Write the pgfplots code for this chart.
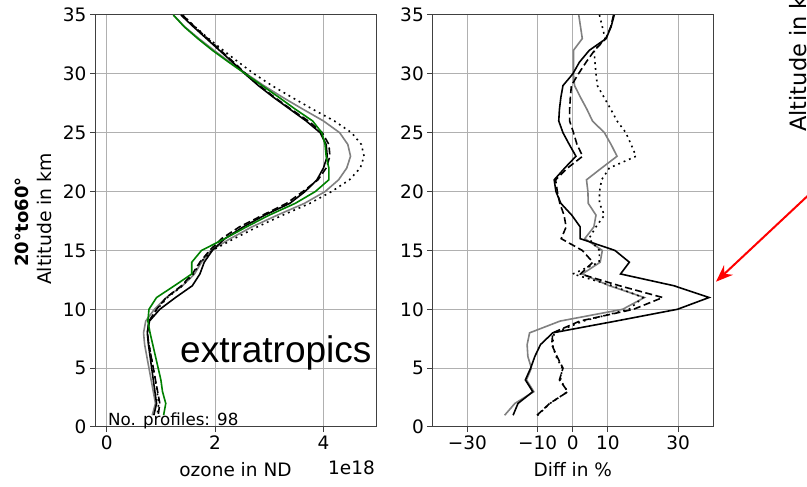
\documentclass[border=0pt]{standalone}
\usepackage{fontspec}
\setmainfont{DejaVu Sans}
\newfontfamily\arialfont{Liberation Sans}
\usepackage{pgfplots}
\pgfplotsset{compat=1.18}
\usepackage{pgfplotstable}
\usetikzlibrary{arrows.meta}

\definecolor{gridgray}{RGB}{176,176,176}
\definecolor{mplgray}{RGB}{128,128,128}
\definecolor{mplgreen}{RGB}{0,128,0}

% ozone number density (x 1e18), altitude in km
\pgfplotstableread{
alt black dashed gray dotted green
35 1.37 1.40 1.23 1.40 1.23
34 1.60 1.62 1.44 1.63 1.43
33 1.84 1.86 1.70 1.88 1.68
32 2.08 2.10 1.98 2.15 1.95
31 2.32 2.34 2.27 2.43 2.25
30 2.55 2.57 2.58 2.72 2.56
29 2.80 2.82 2.90 3.05 2.87
28 3.08 3.10 3.25 3.42 3.18
27 3.38 3.40 3.62 3.80 3.48
26 3.68 3.72 4.00 4.20 3.80
25 3.94 3.98 4.30 4.52 3.97
24 4.05 4.10 4.45 4.70 4.03
23 4.07 4.12 4.50 4.75 4.05
22 4.00 4.05 4.43 4.68 4.10
21 3.88 3.90 4.28 4.48 4.10
20 3.66 3.62 4.03 4.15 3.85
19 3.38 3.32 3.65 3.75 3.48
18 2.92 2.88 3.15 3.25 3.00
17 2.52 2.45 2.68 2.78 2.58
16 2.18 2.12 2.28 2.35 2.18
15 1.95 1.90 1.92 1.95 1.75
14 1.80 1.72 1.75 1.73 1.57
13 1.72 1.58 1.62 1.60 1.57
12 1.58 1.38 1.40 1.40 1.25
11 1.27 1.10 1.10 1.12 0.92
10 0.98 0.92 0.88 0.93 0.78
9  0.79 0.78 0.72 0.78 0.76
8  0.75 0.75 0.68 0.75 0.80
7  0.77 0.78 0.70 0.78 0.85
6  0.80 0.82 0.74 0.82 0.90
5  0.83 0.86 0.78 0.86 0.95
4  0.86 0.90 0.82 0.90 1.00
3  0.89 0.94 0.86 0.93 1.03
2  0.92 0.98 0.90 0.96 1.09
1  0.87 0.95 0.84 0.93 1.05
}\ozone

% relative differences in %
\pgfplotstableread{
alt black dashed gray dotted
35 11.8 11.6 1.7 7.6
34 10.9 10.8 2.2 8.4
33 9.5 9.4 2.7 9.2
32 4.7 6.2 0.2 6.1
31 1.9 3.8 0.2 6.3
30 0.0 1.6 0.2 6.6
29 -2.8 -0.4 0.5 7.0
28 -3.4 -0.7 2.2 8.9
27 -3.8 -0.9 4.0 10.8
26 -4.0 -0.9 5.6 12.6
25 -2.8 0.2 9.0 15.1
24 -1.0 1.2 10.9 16.6
23 0.9 2.8 12.6 18.0
22 -2.3 -1.5 8.2 10.4
21 -5.3 -4.9 3.9 8.2
20 -4.8 -4.4 4.3 7.6
19 -3.4 -3.7 4.4 7.6
18 -0.3 -2.5 6.6 9.0
17 2.1 -1.9 6.0 6.6
16 2.1 -3.3 3.4 4.6
15 12.0 2.7 8.4 7.6
14 16.1 5.7 7.8 7.5
13 13.6 2.2 2.7 0.0
12 28.8 13.3 10.4 11.3
11 38.8 25.6 20.4 20.0
10 29.8 17.3 14.2 16.0
9  12.3 2.0 -3.6 3.0
8  -5.7 -5.7 -12.3 -5.3
7  -9.2 -6.0 -13.0 -5.8
6  -10.8 -4.5 -12.8 -4.8
5  -12.0 -2.8 -11.8 -3.0
4  -13.5 -3.8 -13.2 -3.5
3  -11.4 -1.4 -11.1 -1.5
2  -15.6 -6.6 -16.5 -6.5
1  -17.0 -10.2 -19.4 -10.0
}\diff

\pgfplotsset{
  panel/.style={
    anchor=south west,
    width=281bp, height=412bp, scale only axis,
    ymin=0, ymax=35, ytick={0,5,...,35},
    grid=major,
    major grid style={gridgray, line width=1bp},
    axis line style={black!75, line width=1bp},
    tick align=outside, major tick length=5bp,
    tick style={black!75, line width=1bp},
    xtick pos=left, ytick pos=left,
    /pgf/number format/assume math mode=true,
    ticklabel style={font=\fontsize{18.5bp}{20bp}\selectfont, text=black},
    label style={font=\fontsize{18.5bp}{20bp}\selectfont, text=black},
    xlabel style={at={(axis description cs:0.5,0)}, anchor=base, yshift=-49bp, inner sep=0pt},
  },
  thick line/.style={line width=1.6bp},
}

\begin{document}
\begin{tikzpicture}
\begin{axis}[panel, at={(95bp,60bp)},
    xmin=-0.216, xmax=4.97, xtick={0,2,4},
    xlabel={ozone in ND}]
  \addplot[thick line, mplgray] table[x=gray, y=alt] {\ozone};
  \addplot[thick line, black, dash pattern=on 1.8bp off 4bp] table[x=dotted, y=alt] {\ozone};
  \addplot[thick line, black, dash pattern=on 7bp off 3.5bp] table[x=dashed, y=alt] {\ozone};
  \addplot[thick line, black] table[x=black, y=alt] {\ozone};
  \addplot[thick line, mplgreen] table[x=green, y=alt] {\ozone};
\end{axis}

\begin{axis}[panel, at={(432.3bp,60bp)},
    xmin=-40, xmax=40, xtick={-30,-10,0,10,30},
    xticklabels={−30,−10,0,10,30},
    xlabel={Diff in \%}]
  \addplot[thick line, mplgray] table[x=gray, y=alt] {\diff};
  \addplot[thick line, black, dash pattern=on 1.8bp off 4bp] table[x=dotted, y=alt] {\diff};
  \addplot[thick line, black, dash pattern=on 7bp off 3.5bp] table[x=dashed, y=alt] {\diff};
  \addplot[thick line, black] table[x=black, y=alt] {\diff};
\end{axis}

\node[anchor=base west, inner sep=0pt, font=\arialfont\fontsize{37bp}{40bp}\selectfont] at (180bp,124bp) {extratropics};
\node[anchor=base west, inner sep=0pt, text=black, font=\fontsize{16.7bp}{18bp}\selectfont] at (108bp,61bp) {No. profiles: 98};
\node[anchor=base east, inner sep=0pt, text=black, font=\fontsize{18.5bp}{20bp}\selectfont] at (375bp,12.5bp) {1e18};
\node[rotate=90, anchor=base, inner sep=0pt, text=black, font=\fontsize{18.8bp}{20bp}\selectfont] at (51.5bp,268bp) {Altitude in km};
\node[rotate=90, anchor=base, inner sep=0pt, text=black, font=\bfseries\fontsize{18bp}{20bp}\selectfont] at (28.3bp,265bp) {20°to60°};
\node[rotate=90, anchor=base west, inner sep=0pt, text=black, font=\fontsize{22.5bp}{24bp}\selectfont] at (806bp,355bp) {Altitude in km};
\draw[red, line width=2bp, -{Stealth[length=17bp, width=13bp]}] (812bp,295.2bp) -- (716bp,205.3bp);

\pgfresetboundingbox
\path[use as bounding box] (0,0) rectangle (807bp,487bp);
\end{tikzpicture}
\end{document}
